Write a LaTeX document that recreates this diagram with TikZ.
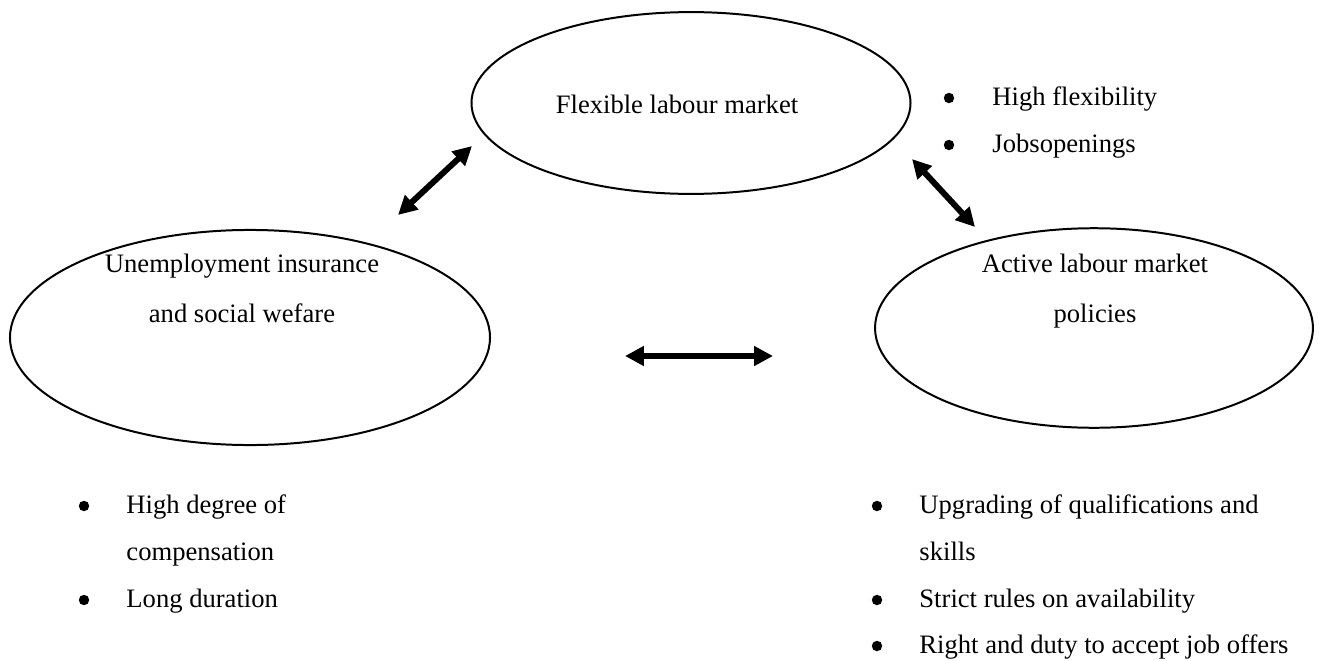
\documentclass[tikz,border=0pt]{standalone}
\usepackage{fontspec}
\setmainfont{Liberation Serif}
\usetikzlibrary{shapes.geometric,arrows.meta,positioning}

\begin{document}
\begin{tikzpicture}[x=0.451pt,y=-0.451pt,
  font=\fontsize{12}{22.5}\selectfont,
  pillar/.style={draw,ellipse,line width=0.9pt,inner sep=0pt},
  caption/.style={anchor=base,inner sep=0pt,align=center},
  link/.style={line width=2.7pt,
    {Triangle[length=8.5pt,width=8.5pt]}-{Triangle[length=8.5pt,width=8.5pt]}},
  dot/.style={circle,fill,inner sep=0pt,minimum size=4.7pt},
  point/.style={anchor=base west,inner sep=0pt}]
  \useasboundingbox (0,0) rectangle (1323,661);

  % The three pillars
  \node[pillar,minimum width=198pt,minimum height=82pt] (flex) at (691,103) {};
  \node[pillar,minimum width=216.5pt,minimum height=97pt] (unemp) at (250,337.5) {};
  \node[pillar,minimum width=197.5pt,minimum height=90pt] (almp) at (1094,328) {};

  \node[caption] (flex-txt) at (677,113) {Flexible labour market};
  \node[caption] (unemp-txt) at (242,322) {Unemployment insurance\\and social wefare};
  \node[caption] (almp-txt) at (1095,322) {Active labour market\\policies};

  % Double arrows
  \coordinate (unemp-a) at (398,215);
  \coordinate (flex-a) at (472,146);
  \coordinate (flex-b) at (912,159);
  \coordinate (almp-b) at (975,227);
  \coordinate (unemp-c) at (625,356);
  \coordinate (almp-c) at (773,356);
  \draw[link] (unemp-a) -- (flex-a);
  \draw[link] (flex-b) -- (almp-b);
  \draw[link] (unemp-c) -- (almp-c);

  % Bullet lists
  \node[dot] (hf-dot) at (949,98) {};
  \node[point] (hf) at (992,105) {High flexibility};
  \node[dot] (jo-dot) at (949,145) {};
  \node[point] (jo) at (992,152) {Jobsopenings};

  \node[dot] (hd-dot) at (84,506) {};
  \node[point] (hd) at (126,513) {High degree of};
  \node[point] (hd2) at (126,560) {compensation};
  \node[dot] (ld-dot) at (84,600) {};
  \node[point] (ld) at (126,607) {Long duration};

  \node[dot] (uq-dot) at (877,506) {};
  \node[point] (uq) at (919,513) {Upgrading of qualifications and};
  \node[point] (uq2) at (919,560) {skills};
  \node[dot] (sr-dot) at (877,600) {};
  \node[point] (sr) at (919,607) {Strict rules on availability};
  \node[dot] (rd-dot) at (877,646) {};
  \node[point] (rd) at (919,653) {Right and duty to accept job offers};
\end{tikzpicture}
\end{document}
